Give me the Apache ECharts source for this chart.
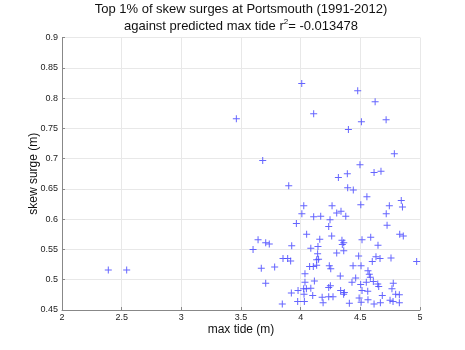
<!DOCTYPE html>
<html>
<head>
<meta charset="utf-8">
<script src="https://cdn.jsdelivr.net/npm/echarts@6/dist/echarts.min.js"></script>
<style>html,body{margin:0;padding:0;background:#fff;}#c{width:465px;height:350px;}</style>
</head>
<body>
<div id="c"></div>
<script>
const titleLine1 = 'Top 1% of skew surges at Portsmouth (1991-2012)';
const titleLine2a = 'against predicted max tide r';
const titleSup = '2';
const titleLine2b = '= -0.013478';
const xLabel = 'max tide (m)';
const yLabel = 'skew surge (m)';

const maxTide = [
  4.478, 4.624, 4.509, 4.716, 4.400, 4.009, 4.109, 3.461, 3.682, 4.785,
  4.497, 4.391, 4.316, 4.615, 4.673, 4.394, 4.441, 4.555, 3.900, 4.263,
  4.504, 4.843, 4.853, 4.743, 4.302, 4.338, 4.378, 4.717, 4.168, 4.246,
  4.026, 4.010, 4.109, 3.964, 4.235, 4.050, 4.260, 4.160, 4.346, 4.361,
  4.349, 4.514, 4.145, 4.085, 3.925, 4.361, 4.142, 4.302, 4.486, 4.724,
  4.830, 4.860, 4.587, 4.648, 3.643, 3.601, 3.707, 3.737, 3.852, 3.891,
  3.916, 3.670, 3.782, 2.388, 2.542, 4.134, 4.150, 4.075, 4.106, 4.134,
  4.240, 4.252, 4.439, 4.506, 4.332, 4.036, 4.115, 4.036, 3.707, 4.430,
  4.461, 4.503, 4.249, 4.235, 4.335, 4.366, 4.514, 4.025, 4.048, 4.085,
  3.978, 3.922, 4.028, 4.101, 3.975, 4.031, 3.846, 4.235, 4.271, 4.180,
  4.188, 4.408, 4.490, 4.507, 4.360, 4.631, 4.665, 4.757, 4.972, 4.600,
  4.564, 4.575, 4.584, 4.609, 4.550, 4.776, 4.646, 4.765, 4.654, 4.562,
  4.796, 4.827, 4.684, 4.564, 4.749, 4.774, 4.827, 4.668, 4.615
];
const skewSurge = [
  0.812, 0.794, 0.761, 0.764, 0.748, 0.824, 0.774, 0.766, 0.697, 0.708,
  0.690, 0.675, 0.669, 0.677, 0.679, 0.652, 0.648, 0.637, 0.655, 0.622,
  0.624, 0.631, 0.620, 0.622, 0.610, 0.613, 0.605, 0.609, 0.605, 0.599,
  0.622, 0.609, 0.604, 0.593, 0.588, 0.575, 0.572, 0.567, 0.565, 0.561,
  0.558, 0.566, 0.555, 0.552, 0.556, 0.548, 0.543, 0.544, 0.539, 0.590,
  0.575, 0.572, 0.570, 0.557, 0.566, 0.550, 0.561, 0.559, 0.535, 0.535,
  0.531, 0.519, 0.521, 0.516, 0.516, 0.533, 0.534, 0.522, 0.522, 0.524,
  0.523, 0.518, 0.523, 0.523, 0.506, 0.510, 0.498, 0.496, 0.494, 0.496,
  0.503, 0.492, 0.490, 0.487, 0.482, 0.479, 0.482, 0.485, 0.485, 0.486,
  0.482, 0.478, 0.476, 0.474, 0.464, 0.464, 0.460, 0.472, 0.472, 0.471,
  0.462, 0.461, 0.470, 0.463, 0.476, 0.538, 0.535, 0.536, 0.530, 0.530,
  0.515, 0.509, 0.504, 0.497, 0.496, 0.494, 0.493, 0.485, 0.489, 0.481,
  0.476, 0.475, 0.474, 0.467, 0.466, 0.464, 0.462, 0.462, 0.460
];

const points = maxTide.map((x, i) => [x, skewSurge[i]]);

const chart = echarts.init(document.getElementById('c'), null, {renderer: 'canvas'});
const font = 'Liberation Sans, Arial, sans-serif';
chart.setOption({
  animation: false,
  backgroundColor: '#ffffff',
  title: {
    text: '{a|' + titleLine1 + '}\n{a|' + titleLine2a + '}{s|' + titleSup + '}{a|' + titleLine2b + '}',
    left: 241, top: 1, padding: 0, textAlign: 'center',
    textStyle: {
      fontWeight: 'normal',
      rich: {
        a: {fontFamily: font, fontSize: 13, fontWeight: 'normal', color: '#111', lineHeight: 17},
        s: {fontFamily: font, fontSize: 8, fontWeight: 'normal', color: '#111', verticalAlign: 'top', lineHeight: 17, padding: [0, 0, 6, 0]}
      }
    }
  },
  grid: {left: 62, right: 45, top: 37.5, bottom: 40, containLabel: false},
  xAxis: {
    type: 'value', min: 2, max: 5, interval: 0.5,
    name: xLabel, nameLocation: 'middle', nameGap: 14, nameMoveOverlap: false,
    nameTextStyle: {fontFamily: font, fontSize: 12, color: '#111'},
    axisLine: {show: true, onZero: false, lineStyle: {color: '#888', width: 1}},
    axisTick: {show: true, inside: true, length: 3, lineStyle: {color: '#888'}},
    axisLabel: {fontFamily: font, fontSize: 9, color: '#222', margin: 3},
    splitLine: {show: true, lineStyle: {color: '#e8e8e8', width: 1}}
  },
  yAxis: {
    type: 'value', min: 0.45, max: 0.9, interval: 0.05,
    name: yLabel, nameLocation: 'middle', nameGap: 22, nameRotate: 90, nameMoveOverlap: false,
    nameTextStyle: {fontFamily: font, fontSize: 12, color: '#111'},
    axisLine: {show: true, onZero: false, lineStyle: {color: '#888', width: 1}},
    axisTick: {show: true, inside: true, length: 3, lineStyle: {color: '#888'}},
    axisLabel: {fontFamily: font, fontSize: 9, color: '#222', margin: 4,
      formatter: v => String(parseFloat(v.toFixed(2)))},
    splitLine: {show: true, lineStyle: {color: '#e8e8e8', width: 1}}
  },
  series: [{
    type: 'scatter',
    data: points,
    symbol: 'path://M3,0h1v3h3v1h-3v3h-1v-3h-3v-1h3z',
    symbolSize: 7,
    itemStyle: {color: '#4a4aff', opacity: 0.85}
  }]
});
</script>
</body>
</html>
